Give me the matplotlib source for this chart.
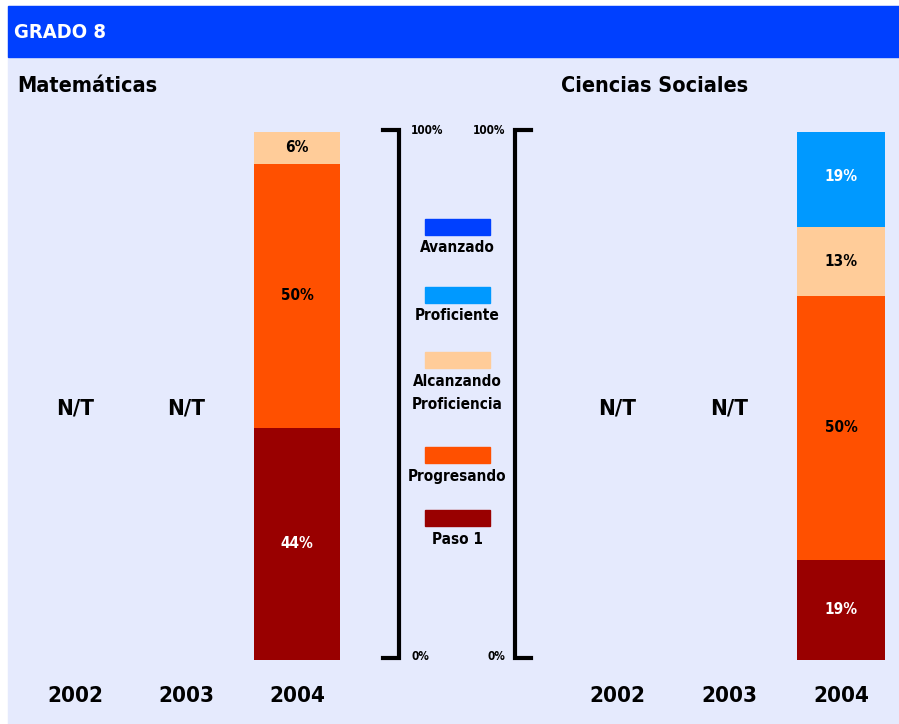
import matplotlib.pyplot as plt
from matplotlib.patches import Rectangle

plt.rcParams['font.family'] = ['DejaVu Sans']
plt.rcParams['font.stretch'] = 'condensed'

# datos
anios = ['2002', '2003', '2004']
niveles = ['Paso 1', 'Progresando', 'Alcanzando\nProficiencia', 'Proficiente', 'Avanzado']
colores = ['#990000', '#FF5000', '#FFCC99', '#0099FF', '#0040FF']
color_texto = ['white', 'black', 'black', 'white', 'white']

mat_2004 = [44, 50, 6, 0, 0]
soc_2004 = [19, 50, 13, 19, 0]
sin_datos = ['N/T', 'N/T']

W, H = 899, 724
fig = plt.figure(figsize=(W / 100, H / 100), dpi=100, facecolor='white')

# fondo y cabecera (coordenadas en pixeles)
bg = fig.add_axes([0, 0, 1, 1])
bg.set_xlim(0, W)
bg.set_ylim(H, 0)
bg.axis('off')
bg.add_patch(Rectangle((8, 6), W - 8, H - 6, color='#E5EAFD', zorder=0))
bg.add_patch(Rectangle((8, 6), W - 8, 51, color='#0040FF', zorder=1))
bg.text(14, 32, 'GRADO 8', color='white', fontsize=14.5, fontweight='bold', va='center', ha='left')
bg.text(17, 86, 'Matemáticas', color='black', fontsize=15.5, fontweight='bold', va='center', ha='left')
bg.text(561, 86, 'Ciencias Sociales', color='black', fontsize=15.5, fontweight='bold', va='center', ha='left')

# corchetes de escala
bg.plot([383, 399, 399, 383], [130, 130, 658, 658], color='black', lw=3, solid_joinstyle='miter')
bg.plot([531, 515, 515, 531], [130, 130, 658, 658], color='black', lw=3, solid_joinstyle='miter')
bg.text(411, 131, '100%', fontsize=8.5, fontweight='bold', ha='left', va='center')
bg.text(505, 131, '100%', fontsize=8.5, fontweight='bold', ha='right', va='center')
bg.text(411, 657, '0%', fontsize=8.5, fontweight='bold', ha='left', va='center')
bg.text(505, 657, '0%', fontsize=8.5, fontweight='bold', ha='right', va='center')

# leyenda
ley_y = [518, 455, 360, 295, 227]
for nom, col, yy in zip(niveles, colores, ley_y):
    bg.add_patch(Rectangle((425, yy - 8), 65, 16, color=col, zorder=2))
    n = nom.count('\n')
    bg.text(457, yy + 21 + n * 12, nom, fontsize=11, fontweight='bold', ha='center', va='center',
            linespacing=1.6)


def panel(x0, x1, valores):
    bot = (H - 660) / H
    top = (H - 132) / H
    ax = fig.add_axes([x0 / W, bot, (x1 - x0) / W, top - bot])
    ax.set_xlim(-0.5, 2.5)
    ax.set_ylim(0, 100)
    ax.axis('off')
    base = 0
    for v, col, tc in zip(valores, colores, color_texto):
        if v == 0:
            continue
        ax.bar(2, v, bottom=base, width=0.78, color=col, edgecolor='none')
        ax.text(2, base + v / 2, f'{v}%', color=tc, fontsize=11, fontweight='bold',
                ha='center', va='center')
        base += v
    for i, t in enumerate(sin_datos):
        ax.text(i, 47.7, t, fontsize=16, fontweight='bold', ha='center', va='center')
    for i, a in enumerate(anios):
        ax.text(i, -6.8, a, fontsize=16, fontweight='bold', ha='center', va='center', clip_on=False)
    return ax


panel(19.5, 352.5, mat_2004)
panel(561, 897, soc_2004)

fig.savefig('out.png', dpi=100, facecolor='white')
